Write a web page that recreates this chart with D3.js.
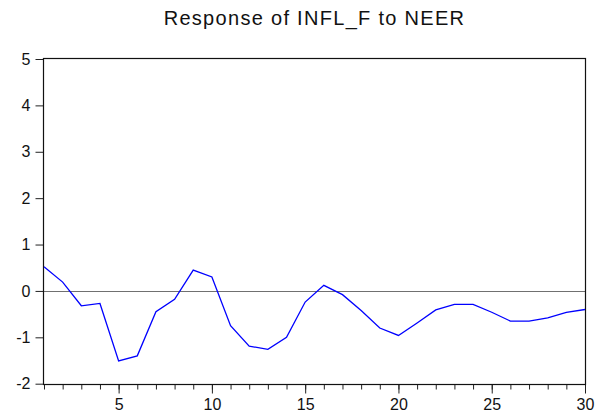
<!DOCTYPE html>
<html>
<head>
<meta charset="utf-8">
<script src="https://cdn.jsdelivr.net/npm/d3@7"></script>
<style>
  body { margin: 0; background: #fff; }
  text { font-family: Arial, "Liberation Sans", sans-serif; fill: #111; }
</style>
</head>
<body>
<div id="chart"></div>
<script>
// impulse response, periods 1..30
const periods = d3.range(1, 31);
const response = [
  0.52, 0.19, -0.32, -0.27, -1.51, -1.40, -0.45, -0.18, 0.45, 0.30,
  -0.75, -1.19, -1.26, -1.00, -0.24, 0.12, -0.08, -0.42, -0.80, -0.96,
  -0.69, -0.41, -0.29, -0.29, -0.46, -0.65, -0.65, -0.58, -0.46, -0.40
];
const yTicks = [-2, -1, 0, 1, 2, 3, 4, 5];
const xLabels = [5, 10, 15, 20, 25, 30];
const title = "Response of INFL_F to NEER";

const width = 606, height = 419;
const plotLeft = 44, plotRight = 585, plotTop = 59, plotBottom = 383.7;

const svg = d3.select("#chart").append("svg")
  .attr("width", width)
  .attr("height", height);

const x = d3.scaleLinear().domain([1, 30]).range([plotLeft, plotRight]);
const y = d3.scaleLinear().domain([-2, 5]).range([plotBottom, plotTop]);

// title
svg.append("text")
  .attr("x", (plotLeft + plotRight) / 2)
  .attr("y", 24.5)
  .attr("text-anchor", "middle")
  .style("font-size", "20px")
  .style("letter-spacing", "1.3px")
  .text(title);

// zero line
svg.append("line")
  .attr("x1", plotLeft).attr("x2", plotRight)
  .attr("y1", Math.round(y(0)) + 0.5).attr("y2", Math.round(y(0)) + 0.5)
  .attr("stroke", "#707070")
  .attr("stroke-width", 1.2);

// y axis (plain hyphen for negatives, like the original)
const yAxis = svg.append("g")
  .attr("transform", `translate(${Math.round(plotLeft) - 0.5},0)`)
  .call(d3.axisLeft(y).tickValues(yTicks).tickSize(8).tickPadding(5).tickFormat(d => String(d)));
yAxis.select(".domain").remove();
yAxis.selectAll("text").style("font-size", "16px").attr("fill", "#111").style("font-family", "Arial, 'Liberation Sans', sans-serif");

// x axis: minor ticks every period, major at labels
const xAxis = svg.append("g")
  .attr("transform", `translate(0,${Math.round(plotBottom) + 0.5})`)
  .call(d3.axisBottom(x).tickValues(periods).tickSize(5).tickFormat(""));
xAxis.select(".domain").remove();
const xMajor = svg.append("g")
  .attr("transform", `translate(0,${Math.round(plotBottom) + 0.5})`)
  .call(d3.axisBottom(x).tickValues(xLabels).tickSize(9).tickPadding(5).tickFormat(d => String(d)));
xMajor.select(".domain").remove();
xMajor.selectAll("text").style("font-size", "16px").attr("fill", "#111").style("font-family", "Arial, 'Liberation Sans', sans-serif");
svg.selectAll(".tick line").attr("stroke", "#222");

// frame
svg.append("rect")
  .attr("x", Math.round(plotLeft) - 0.5)
  .attr("y", Math.round(plotTop) - 0.5)
  .attr("width", Math.round(plotRight) - Math.round(plotLeft) + 1)
  .attr("height", Math.round(plotBottom) - Math.round(plotTop) + 1)
  .attr("fill", "none")
  .attr("stroke", "#111")
  .attr("stroke-width", 1.2);

// response line
const line = d3.line()
  .x((d, i) => x(periods[i]))
  .y(d => y(d));

svg.append("path")
  .datum(response)
  .attr("fill", "none")
  .attr("stroke", "#0000ff")
  .attr("stroke-width", 1.3)
  .attr("d", line);
</script>
</body>
</html>
